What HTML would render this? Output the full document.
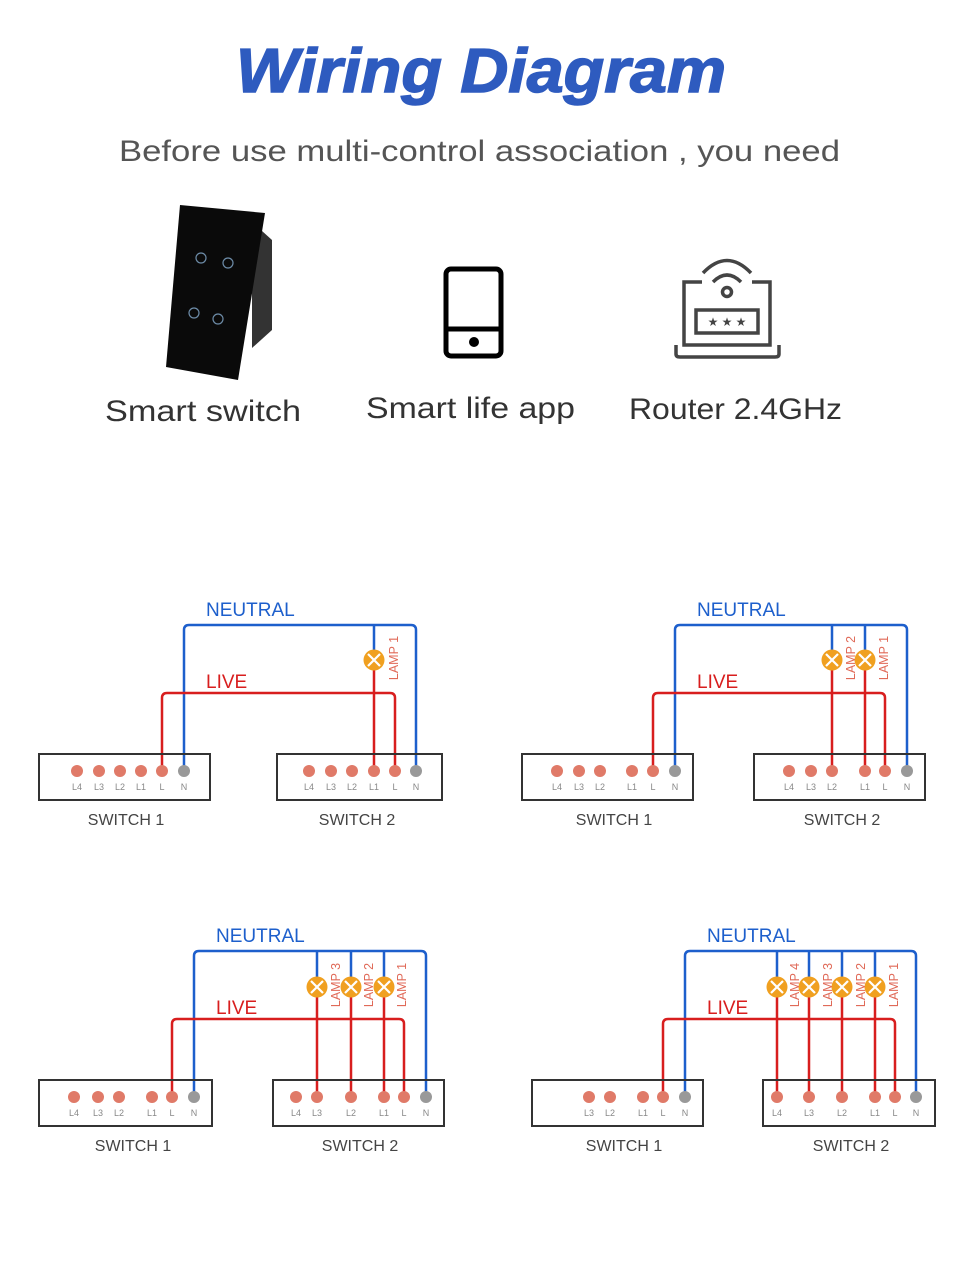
<!DOCTYPE html>
<html><head><meta charset="utf-8"><style>
html,body{margin:0;padding:0;background:#fff}
svg{display:block}
.lbl{font-family:"Liberation Sans",sans-serif;font-size:9px;fill:#888}
.sw{font-family:"Liberation Sans",sans-serif;font-size:16px;fill:#444}
.nt{font-family:"Liberation Sans",sans-serif;font-size:19px;fill:#1d5fcc}
.lv{font-family:"Liberation Sans",sans-serif;font-size:19px;fill:#d81e1e}
.lp{font-family:"Liberation Sans",sans-serif;font-size:12.5px;fill:#e06a58}
.b{fill:none;stroke:#1d5fcc;stroke-width:2.5}
.r{fill:none;stroke:#d81e1e;stroke-width:2.5}
.box{fill:none;stroke:#333;stroke-width:2}
.d{fill:#e07a68}.n{fill:#999}
</style></head><body>
<svg width="960" height="1286" viewBox="0 0 960 1286" xmlns="http://www.w3.org/2000/svg">
<defs>
<g id="lamp"><circle r="10.5" fill="#f0a020"/><path d="M-6-6L6 6M6-6L-6 6" stroke="#fff" stroke-width="2.2"/></g>
</defs>
<text x="236" y="92" textLength="490" lengthAdjust="spacingAndGlyphs" font-family="Liberation Sans,sans-serif" font-size="62" font-weight="bold" font-style="italic" fill="#2e5bbf" stroke="#2e5bbf" stroke-width="1.5">Wiring Diagram</text>
<text x="119" y="161" textLength="721" lengthAdjust="spacingAndGlyphs" font-family="Liberation Sans,sans-serif" font-size="30" fill="#555">Before use multi-control association  , you need</text>
<!-- smart switch -->
<polygon points="252,222 272,240 272,330 252,348" fill="#333"/>
<polygon points="180,205 265,213 238,380 166,367" fill="#0a0a0a"/>
<g fill="none" stroke="#6d8ca8" stroke-width="1.2"><circle cx="201" cy="258" r="5"/><circle cx="228" cy="263" r="5"/><circle cx="194" cy="313" r="5"/><circle cx="218" cy="319" r="5"/></g>
<text x="105" y="421" textLength="196" lengthAdjust="spacingAndGlyphs" font-family="Liberation Sans,sans-serif" font-size="30" fill="#333">Smart switch</text>
<!-- phone -->
<rect x="446" y="269" width="55" height="87" rx="5" fill="none" stroke="#000" stroke-width="5"/>
<line x1="446" y1="329" x2="501" y2="329" stroke="#000" stroke-width="5"/>
<circle cx="474" cy="342" r="5" fill="#000"/>
<text x="366" y="418" textLength="209" lengthAdjust="spacingAndGlyphs" font-family="Liberation Sans,sans-serif" font-size="30" fill="#333">Smart life app</text>
<!-- router -->
<g fill="none" stroke="#444" stroke-width="3.5">
<path d="M702 282 H684 V345 H770 V282 H752"/>
<path d="M676 345 V354 Q676 357 680 357 H775 Q779 357 779 354 V345"/>
<rect x="696" y="310" width="62" height="23"/>
<circle cx="727" cy="292" r="4.5"/>
<path d="M713 282 Q727 268 741 282"/><path d="M703 273 Q727 248 751 273"/>
</g>
<g fill="#444" font-size="12" font-family="DejaVu Sans,sans-serif" text-anchor="middle"><text x="713" y="326">★</text><text x="727" y="326">★</text><text x="741" y="326">★</text></g>
<text x="629" y="419" textLength="213" lengthAdjust="spacingAndGlyphs" font-family="Liberation Sans,sans-serif" font-size="30" fill="#333">Router 2.4GHz</text>

<!-- Diagram 1 -->
<text class="nt" x="206" y="616">NEUTRAL</text><text class="lv" x="206" y="688">LIVE</text>
<path class="b" d="M184 771V630Q184 625 189 625H411Q416 625 416 630V771M374 625V660"/>
<path class="r" d="M162 771V698Q162 693 167 693H390Q395 693 395 698V771M374 660V771"/>
<use href="#lamp" x="374" y="660"/>
<text class="lp" transform="translate(398,658) rotate(-90)" text-anchor="middle">LAMP 1</text>
<rect class="box" x="39" y="754" width="171" height="46"/><rect class="box" x="277" y="754" width="165" height="46"/>
<g class="d"><circle cx="77" cy="771" r="6"/><circle cx="99" cy="771" r="6"/><circle cx="120" cy="771" r="6"/><circle cx="141" cy="771" r="6"/><circle cx="162" cy="771" r="6"/>
<circle cx="309" cy="771" r="6"/><circle cx="331" cy="771" r="6"/><circle cx="352" cy="771" r="6"/><circle cx="374" cy="771" r="6"/><circle cx="395" cy="771" r="6"/></g>
<g class="n"><circle cx="184" cy="771" r="6"/><circle cx="416" cy="771" r="6"/></g>
<g class="lbl" text-anchor="middle"><text x="77" y="790">L4</text><text x="99" y="790">L3</text><text x="120" y="790">L2</text><text x="141" y="790">L1</text><text x="162" y="790">L</text><text x="184" y="790">N</text>
<text x="309" y="790">L4</text><text x="331" y="790">L3</text><text x="352" y="790">L2</text><text x="374" y="790">L1</text><text x="395" y="790">L</text><text x="416" y="790">N</text></g>
<text class="sw" x="126" y="825" text-anchor="middle">SWITCH 1</text><text class="sw" x="357" y="825" text-anchor="middle">SWITCH 2</text>

<!-- Diagram 2 -->
<text class="nt" x="697" y="616">NEUTRAL</text><text class="lv" x="697" y="688">LIVE</text>
<path class="b" d="M675 771V630Q675 625 680 625H902Q907 625 907 630V771M832 625V660M865 625V660"/>
<path class="r" d="M653 771V698Q653 693 658 693H880Q885 693 885 698V771M832 660V771M865 660V771"/>
<use href="#lamp" x="832" y="660"/><use href="#lamp" x="865" y="660"/>
<text class="lp" transform="translate(855,658) rotate(-90)" text-anchor="middle">LAMP 2</text>
<text class="lp" transform="translate(888,658) rotate(-90)" text-anchor="middle">LAMP 1</text>
<rect class="box" x="522" y="754" width="171" height="46"/><rect class="box" x="754" y="754" width="171" height="46"/>
<g class="d"><circle cx="557" cy="771" r="6"/><circle cx="579" cy="771" r="6"/><circle cx="600" cy="771" r="6"/><circle cx="632" cy="771" r="6"/><circle cx="653" cy="771" r="6"/>
<circle cx="789" cy="771" r="6"/><circle cx="811" cy="771" r="6"/><circle cx="832" cy="771" r="6"/><circle cx="865" cy="771" r="6"/><circle cx="885" cy="771" r="6"/></g>
<g class="n"><circle cx="675" cy="771" r="6"/><circle cx="907" cy="771" r="6"/></g>
<g class="lbl" text-anchor="middle"><text x="557" y="790">L4</text><text x="579" y="790">L3</text><text x="600" y="790">L2</text><text x="632" y="790">L1</text><text x="653" y="790">L</text><text x="675" y="790">N</text>
<text x="789" y="790">L4</text><text x="811" y="790">L3</text><text x="832" y="790">L2</text><text x="865" y="790">L1</text><text x="885" y="790">L</text><text x="907" y="790">N</text></g>
<text class="sw" x="614" y="825" text-anchor="middle">SWITCH 1</text><text class="sw" x="842" y="825" text-anchor="middle">SWITCH 2</text>

<!-- Diagram 3 -->
<text class="nt" x="216" y="942">NEUTRAL</text><text class="lv" x="216" y="1014">LIVE</text>
<path class="b" d="M194 1097V956Q194 951 199 951H421Q426 951 426 956V1097M317 951V987M351 951V987M384 951V987"/>
<path class="r" d="M172 1097V1024Q172 1019 177 1019H399Q404 1019 404 1024V1097M317 987V1097M351 987V1097M384 987V1097"/>
<use href="#lamp" x="317" y="987"/><use href="#lamp" x="351" y="987"/><use href="#lamp" x="384" y="987"/>
<text class="lp" transform="translate(340,985) rotate(-90)" text-anchor="middle">LAMP 3</text>
<text class="lp" transform="translate(373,985) rotate(-90)" text-anchor="middle">LAMP 2</text>
<text class="lp" transform="translate(406,985) rotate(-90)" text-anchor="middle">LAMP 1</text>
<rect class="box" x="39" y="1080" width="173" height="46"/><rect class="box" x="273" y="1080" width="171" height="46"/>
<g class="d"><circle cx="74" cy="1097" r="6"/><circle cx="98" cy="1097" r="6"/><circle cx="119" cy="1097" r="6"/><circle cx="152" cy="1097" r="6"/><circle cx="172" cy="1097" r="6"/>
<circle cx="296" cy="1097" r="6"/><circle cx="317" cy="1097" r="6"/><circle cx="351" cy="1097" r="6"/><circle cx="384" cy="1097" r="6"/><circle cx="404" cy="1097" r="6"/></g>
<g class="n"><circle cx="194" cy="1097" r="6"/><circle cx="426" cy="1097" r="6"/></g>
<g class="lbl" text-anchor="middle"><text x="74" y="1116">L4</text><text x="98" y="1116">L3</text><text x="119" y="1116">L2</text><text x="152" y="1116">L1</text><text x="172" y="1116">L</text><text x="194" y="1116">N</text>
<text x="296" y="1116">L4</text><text x="317" y="1116">L3</text><text x="351" y="1116">L2</text><text x="384" y="1116">L1</text><text x="404" y="1116">L</text><text x="426" y="1116">N</text></g>
<text class="sw" x="133" y="1151" text-anchor="middle">SWITCH 1</text><text class="sw" x="360" y="1151" text-anchor="middle">SWITCH 2</text>

<!-- Diagram 4 -->
<text class="nt" x="707" y="942">NEUTRAL</text><text class="lv" x="707" y="1014">LIVE</text>
<path class="b" d="M685 1097V956Q685 951 690 951H911Q916 951 916 956V1097M777 951V987M809 951V987M842 951V987M875 951V987"/>
<path class="r" d="M663 1097V1024Q663 1019 668 1019H890Q895 1019 895 1024V1097M777 987V1097M809 987V1097M842 987V1097M875 987V1097"/>
<use href="#lamp" x="777" y="987"/><use href="#lamp" x="809" y="987"/><use href="#lamp" x="842" y="987"/><use href="#lamp" x="875" y="987"/>
<text class="lp" transform="translate(799,985) rotate(-90)" text-anchor="middle">LAMP 4</text>
<text class="lp" transform="translate(832,985) rotate(-90)" text-anchor="middle">LAMP 3</text>
<text class="lp" transform="translate(865,985) rotate(-90)" text-anchor="middle">LAMP 2</text>
<text class="lp" transform="translate(898,985) rotate(-90)" text-anchor="middle">LAMP 1</text>
<rect class="box" x="532" y="1080" width="171" height="46"/><rect class="box" x="763" y="1080" width="172" height="46"/>
<g class="d"><circle cx="589" cy="1097" r="6"/><circle cx="610" cy="1097" r="6"/><circle cx="643" cy="1097" r="6"/><circle cx="663" cy="1097" r="6"/>
<circle cx="777" cy="1097" r="6"/><circle cx="809" cy="1097" r="6"/><circle cx="842" cy="1097" r="6"/><circle cx="875" cy="1097" r="6"/><circle cx="895" cy="1097" r="6"/></g>
<g class="n"><circle cx="685" cy="1097" r="6"/><circle cx="916" cy="1097" r="6"/></g>
<g class="lbl" text-anchor="middle"><text x="589" y="1116">L3</text><text x="610" y="1116">L2</text><text x="643" y="1116">L1</text><text x="663" y="1116">L</text><text x="685" y="1116">N</text>
<text x="777" y="1116">L4</text><text x="809" y="1116">L3</text><text x="842" y="1116">L2</text><text x="875" y="1116">L1</text><text x="895" y="1116">L</text><text x="916" y="1116">N</text></g>
<text class="sw" x="624" y="1151" text-anchor="middle">SWITCH 1</text><text class="sw" x="851" y="1151" text-anchor="middle">SWITCH 2</text>
</svg>
</body></html>
